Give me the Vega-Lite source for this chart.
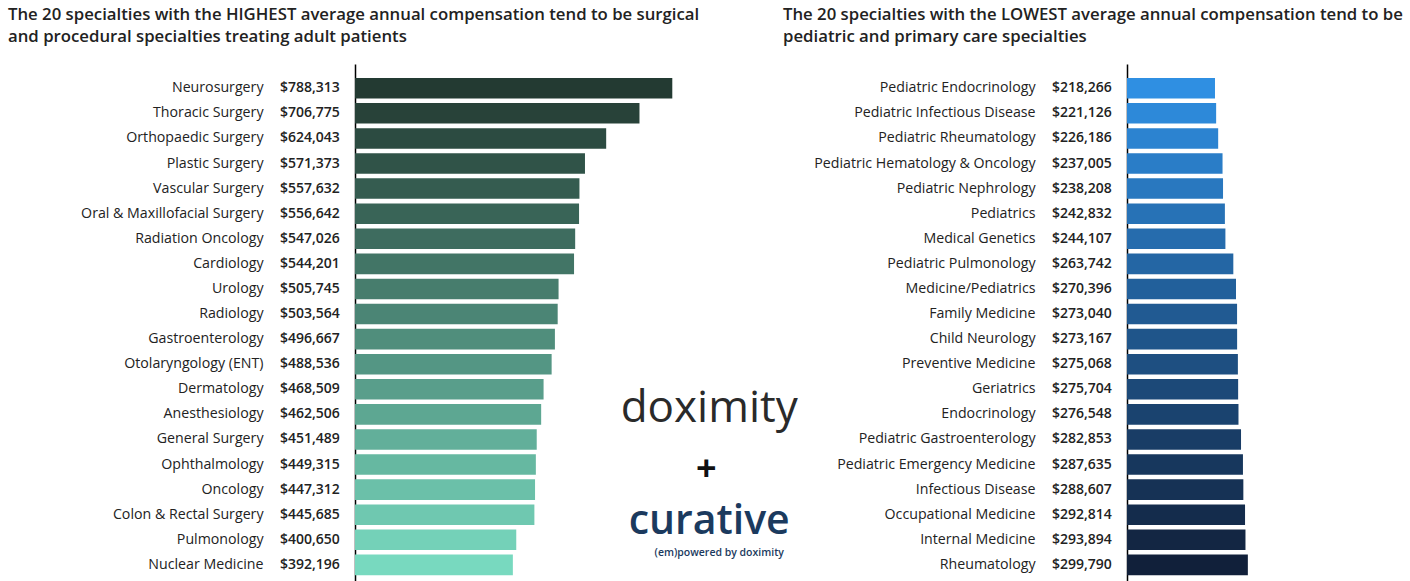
{
  "$schema": "https://vega.github.io/schema/vega-lite/v6.json",
  "autosize": {"type": "pad"},
  "padding": {"left": 8, "top": 7, "right": 0, "bottom": 0},
  "background": "white",
  "bounds": "flush",
  "spacing": 450,
  "config": {
    "view": {"stroke": null},
    "font": "Open Sans",
    "title": {"font": "Open Sans", "fontSize": 16.75, "fontWeight": 600, "color": "#222222", "lineHeight": 22, "anchor": "start", "frame": "group", "offset": 18}
  },
  "datasets": {
    "high": [
      {"specialty": "Neurosurgery", "compensation": 788313},
      {"specialty": "Thoracic Surgery", "compensation": 706775},
      {"specialty": "Orthopaedic Surgery", "compensation": 624043},
      {"specialty": "Plastic Surgery", "compensation": 571373},
      {"specialty": "Vascular Surgery", "compensation": 557632},
      {"specialty": "Oral & Maxillofacial Surgery", "compensation": 556642},
      {"specialty": "Radiation Oncology", "compensation": 547026},
      {"specialty": "Cardiology", "compensation": 544201},
      {"specialty": "Urology", "compensation": 505745},
      {"specialty": "Radiology", "compensation": 503564},
      {"specialty": "Gastroenterology", "compensation": 496667},
      {"specialty": "Otolaryngology (ENT)", "compensation": 488536},
      {"specialty": "Dermatology", "compensation": 468509},
      {"specialty": "Anesthesiology", "compensation": 462506},
      {"specialty": "General Surgery", "compensation": 451489},
      {"specialty": "Ophthalmology", "compensation": 449315},
      {"specialty": "Oncology", "compensation": 447312},
      {"specialty": "Colon & Rectal Surgery", "compensation": 445685},
      {"specialty": "Pulmonology", "compensation": 400650},
      {"specialty": "Nuclear Medicine", "compensation": 392196}
    ],
    "low": [
      {"specialty": "Pediatric Endocrinology", "compensation": 218266},
      {"specialty": "Pediatric Infectious Disease", "compensation": 221126},
      {"specialty": "Pediatric Rheumatology", "compensation": 226186},
      {"specialty": "Pediatric Hematology & Oncology", "compensation": 237005},
      {"specialty": "Pediatric Nephrology", "compensation": 238208},
      {"specialty": "Pediatrics", "compensation": 242832},
      {"specialty": "Medical Genetics", "compensation": 244107},
      {"specialty": "Pediatric Pulmonology", "compensation": 263742},
      {"specialty": "Medicine/Pediatrics", "compensation": 270396},
      {"specialty": "Family Medicine", "compensation": 273040},
      {"specialty": "Child Neurology", "compensation": 273167},
      {"specialty": "Preventive Medicine", "compensation": 275068},
      {"specialty": "Geriatrics", "compensation": 275704},
      {"specialty": "Endocrinology", "compensation": 276548},
      {"specialty": "Pediatric Gastroenterology", "compensation": 282853},
      {"specialty": "Pediatric Emergency Medicine", "compensation": 287635},
      {"specialty": "Infectious Disease", "compensation": 288607},
      {"specialty": "Occupational Medicine", "compensation": 292814},
      {"specialty": "Internal Medicine", "compensation": 293894},
      {"specialty": "Rheumatology", "compensation": 299790}
    ]
  },
  "resolve": {"scale": {"x": "independent", "y": "independent", "color": "independent"}},
  "hconcat": [
    {
      "width": 322,
      "height": 519,
      "title": {"text": ["The 20 specialties with the HIGHEST average annual compensation tend to be surgical", "and procedural specialties treating adult patients"], "dx": -347},
      "data": {"name": "high"},
      "encoding": {
        "y": {"field": "specialty", "type": "nominal", "sort": null,
          "scale": {"paddingInner": 0.18, "paddingOuter": 0.435, "align": 0.64},
          "axis": {"title": null, "ticks": false, "tickSize": 0, "labelPadding": 92, "labelLimit": 320, "domainColor": "#000000", "domainWidth": 1.5, "labelFontSize": 14.2, "labelColor": "#222222", "labelFont": "Open Sans"}}
      },
      "layer": [
        {
          "mark": {"type": "bar"},
          "encoding": {
            "x": {"field": "compensation", "type": "quantitative", "scale": {"domain": [0, 800000], "nice": false}, "axis": null},
            "color": {"field": "specialty", "type": "nominal", "sort": null, "legend": null,
              "scale": {"range": ["#233a32", "#284239", "#2c4b41", "#305348", "#355c50", "#396457", "#3e6c5f", "#427566", "#477d6d", "#4b8575", "#508e7c", "#549684", "#599e8b", "#5da792", "#62af9a", "#66b8a1", "#6bc0a9", "#6fc8b0", "#74d1b8", "#78d9bf"]}}
          }
        },
        {
          "mark": {"type": "text", "align": "left", "baseline": "middle", "dx": -75, "fontSize": 14, "fontWeight": 600, "color": "#222222", "font": "Open Sans"},
          "encoding": {
            "x": {"datum": 0},
            "text": {"field": "compensation", "type": "quantitative", "format": "$,.0f"}
          }
        },
        {
          "data": {"values": [{}]},
          "mark": {"type": "text", "text": "doximity", "align": "center", "baseline": "middle", "fontSize": 44, "fontWeight": 500, "color": "#2a2a2a", "font": "Open Sans", "dy": -5},
          "encoding": {"x": {"datum": 880000}, "y": {"datum": "Anesthesiology"}}
        },
        {
          "data": {"values": [{}]},
          "mark": {"type": "text", "text": "+", "align": "center", "baseline": "middle", "fontSize": 36, "fontWeight": "bold", "color": "#111111", "font": "Open Sans", "dy": 5},
          "encoding": {"x": {"datum": 873000}, "y": {"datum": "Ophthalmology"}}
        },
        {
          "data": {"values": [{}]},
          "mark": {"type": "text", "text": "curative", "align": "center", "baseline": "middle", "fontSize": 41, "fontWeight": 600, "color": "#1b3a5e", "font": "Open Sans", "dy": 7},
          "encoding": {"x": {"datum": 880000}, "y": {"datum": "Colon & Rectal Surgery"}}
        },
        {
          "data": {"values": [{}]},
          "mark": {"type": "text", "text": "(em)powered by doximity", "align": "center", "baseline": "middle", "fontSize": 10.5, "fontWeight": 600, "color": "#1b3a5e", "font": "Open Sans", "dy": 13},
          "encoding": {"x": {"datum": 905000}, "y": {"datum": "Pulmonology"}}
        }
      ]
    },
    {
      "width": 129,
      "height": 519,
      "title": {"text": ["The 20 specialties with the LOWEST average annual compensation tend to be", "pediatric and primary care specialties"], "dx": -344},
      "data": {"name": "low"},
      "encoding": {
        "y": {"field": "specialty", "type": "nominal", "sort": null,
          "scale": {"paddingInner": 0.18, "paddingOuter": 0.435, "align": 0.64},
          "axis": {"title": null, "ticks": false, "tickSize": 0, "labelPadding": 92, "labelLimit": 320, "domainColor": "#000000", "domainWidth": 1.5, "labelFontSize": 14.2, "labelColor": "#222222", "labelFont": "Open Sans"}}
      },
      "layer": [
        {
          "mark": {"type": "bar"},
          "encoding": {
            "x": {"field": "compensation", "type": "quantitative", "scale": {"domain": [0, 320000], "nice": false}, "axis": null},
            "color": {"field": "specialty", "type": "nominal", "sort": null, "legend": null,
              "scale": {"range": ["#2f8fe2", "#2d89d9", "#2c83d0", "#2a7dc7", "#2978bf", "#2772b6", "#266cad", "#2466a4", "#22609b", "#215a92", "#1f558a", "#1e4f81", "#1c4978", "#1a436f", "#193d66", "#17375d", "#163255", "#142c4c", "#132643", "#11203a"]}}
          }
        },
        {
          "mark": {"type": "text", "align": "left", "baseline": "middle", "dx": -75, "fontSize": 14, "fontWeight": 600, "color": "#222222", "font": "Open Sans"},
          "encoding": {
            "x": {"datum": 0},
            "text": {"field": "compensation", "type": "quantitative", "format": "$,.0f"}
          }
        }
      ]
    }
  ]
}
